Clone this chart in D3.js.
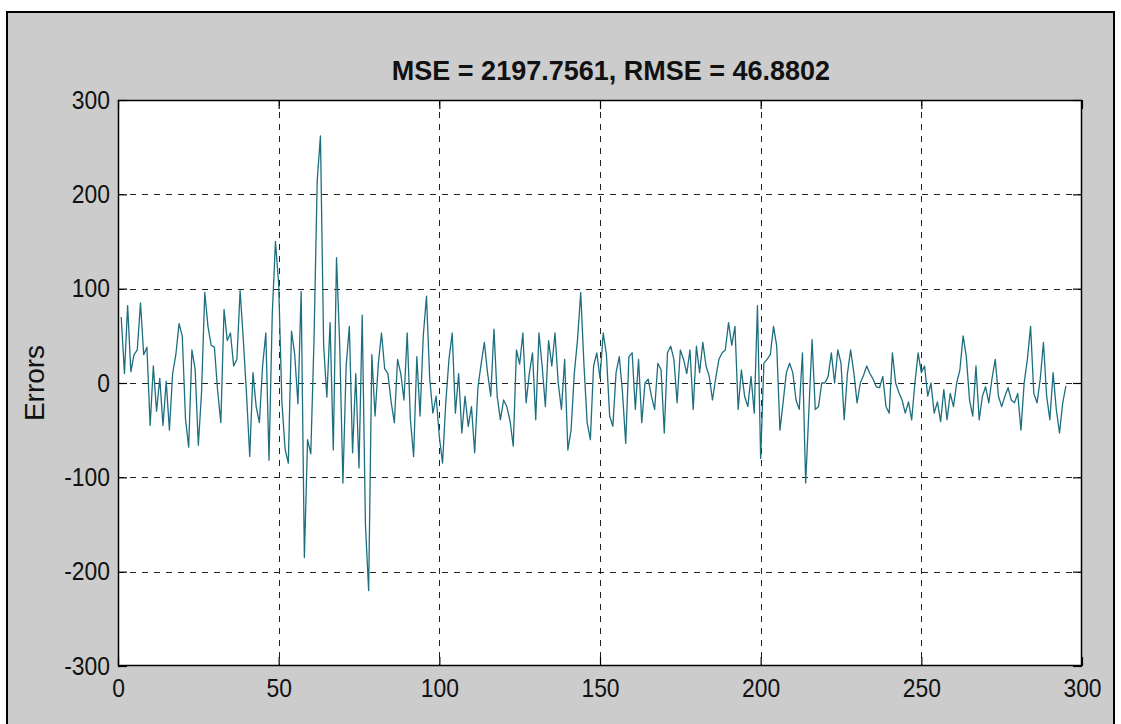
<!DOCTYPE html>
<html>
<head>
<meta charset="utf-8">
<script src="https://cdn.jsdelivr.net/npm/d3@7"></script>
<style>
  html, body { margin: 0; padding: 0; background: #ffffff; }
  svg { display: block; }
  text { font-family: "Liberation Sans", Arial, sans-serif; fill: #111; }
</style>
</head>
<body>
<svg id="chart" width="1121" height="724"></svg>
<script>
// ---- data ----
const titleText = "MSE = 2197.7561, RMSE = 46.8802";
const yLabel = "Errors";
const xTicks = [0, 50, 100, 150, 200, 250, 300];
const yTicks = [-300, -200, -100, 0, 100, 200, 300];
const errors = [
  70, 10, 82, 12, 30, 35, 85, 30, 38, -45,
  18, -30, 5, -45, 2, -50, 10, 30, 63, 50,
  -38, -68, 35, 15, -66, -10, 96, 60, 40, 38,
  -8, -42, 78, 45, 53, 18, 25, 98, 46, -12,
  -78, 11, -25, -42, 18, 53, -82, 72, 150, 105,
  -20, -70, -85, 55, 30, -22, 97, -185, -60, -75,
  46, 215, 262, 40, -15, 64, -71, 133, 40, -106,
  18, 60, -74, 10, -90, 72, -150, -220, 30, -35,
  20, 53, 15, 10, -20, -42, 25, 10, -18, 53,
  -39, -78, 28, -35, 50, 92, 5, -32, -14, -57,
  -85, -21, 25, 53, -32, 10, -53, -14, -46, -25,
  -74, -5, 20, 43, 11, -14, 57, -14, -39, -18,
  -25, -40, -67, 35, 20, 53, -21, 10, 32, -39,
  53, 18, -25, 45, 18, 53, 0, -28, 25, -71,
  -50, 10, 46, 96, 20, -42, -60, 18, 32, 5,
  53, 30, -35, -46, 11, 28, -10, -64, 28, 32,
  -28, 25, -42, 0, 4, -14, -28, 21, 14, -53,
  32, 39, 25, -21, 35, 25, 10, 35, -28, 39,
  11, 43, 18, 7, -18, 5, 25, 32, 35, 64,
  40, 60, -28, 14, -14, -25, 7, -32, 82, -80,
  21, 25, 30, 60, 39, -50, -20, 11, 21, 11,
  -18, -28, 32, -106, -30, 46, -28, -25, 0, 0,
  7, 32, 0, 35, 21, -39, 10, 35, 11, -21,
  0, 8, 18, 10, 4, -4, -5, 7, -25, -32,
  32, 0, -10, -18, -32, -20, -39, 0, 32, 11,
  18, -14, 0, -32, -20, -41, -7, -39, -11, -25,
  0, 14, 50, 28, -18, -35, 18, -39, -14, -4,
  -21, 5, 25, -14, -25, -14, -5, -18, -21, -11,
  -50, 0, 25, 60, -11, -21, 4, 43, -14, -39,
  11, -28, -53, -21, -3
];

// ---- layout ----
const W = 1121, H = 724;
const plot = { left: 118, right: 1082, top: 100, bottom: 666 };
const svg = d3.select("#chart");

// figure background with window border
svg.append("rect").attr("x", 0).attr("y", 0).attr("width", W).attr("height", H).attr("fill", "#ffffff");
svg.append("rect").attr("x", 7).attr("y", 12).attr("width", 1107).attr("height", 730)
  .attr("fill", "#cccccc").attr("stroke", "#000").attr("stroke-width", 2);

const x = d3.scaleLinear().domain([0, 300]).range([plot.left, plot.right]);
const y = d3.scaleLinear().domain([-300, 300]).range([plot.bottom, plot.top]);

// plot area
svg.append("rect").attr("x", plot.left).attr("y", plot.top)
  .attr("width", plot.right - plot.left).attr("height", plot.bottom - plot.top)
  .attr("fill", "#ffffff");

// grid
const grid = svg.append("g").attr("stroke", "#222").attr("stroke-width", 1)
  .attr("stroke-dasharray", "6,6").attr("fill", "none");
grid.selectAll("line.v").data(xTicks.slice(1, -1)).join("line").attr("class", "v")
  .attr("x1", d => Math.round(x(d)) + 0.5).attr("x2", d => Math.round(x(d)) + 0.5)
  .attr("y1", plot.top).attr("y2", plot.bottom);
grid.selectAll("line.h").data(yTicks.slice(1, -1)).join("line").attr("class", "h")
  .attr("y1", d => Math.round(y(d)) + 0.5).attr("y2", d => Math.round(y(d)) + 0.5)
  .attr("x1", plot.left).attr("x2", plot.right);

// data line
const line = d3.line().x((d, i) => x(i + 1)).y(d => y(d));
svg.append("path").datum(errors).attr("d", line)
  .attr("fill", "none").attr("stroke", "#1d6f80").attr("stroke-width", 1.3)
  .attr("stroke-linejoin", "round");

// axes (ticks inward)
const tickLen = 9;
const fontSize = 26;
const fmt = d => String(d);
const axB = svg.append("g").attr("transform", `translate(0,${plot.bottom})`)
  .call(d3.axisBottom(x).tickValues(xTicks).tickFormat(fmt).tickSize(-tickLen).tickSizeOuter(0).tickPadding(13));
const axL = svg.append("g").attr("transform", `translate(${plot.left},0)`)
  .call(d3.axisLeft(y).tickValues(yTicks).tickFormat(fmt).tickSize(-tickLen).tickSizeOuter(0).tickPadding(8));
const axT = svg.append("g").attr("transform", `translate(0,${plot.top})`)
  .call(d3.axisTop(x).tickValues(xTicks).tickSize(-tickLen).tickSizeOuter(0).tickFormat(""));
const axR = svg.append("g").attr("transform", `translate(${plot.right},0)`)
  .call(d3.axisRight(y).tickValues(yTicks).tickSize(-tickLen).tickSizeOuter(0).tickFormat(""));
[axB, axL, axT, axR].forEach(a => {
  a.select(".domain").remove();
  a.selectAll(".tick line").attr("stroke", "#000").attr("stroke-width", 1.2);
  a.selectAll("text").attr("font-size", fontSize).attr("fill", "#111")
    .attr("font-family", "'Liberation Sans', Arial, sans-serif");
});
// narrow the tick labels a little (MATLAB-like condensed look)
axB.selectAll(".tick text").attr("transform", "scale(0.88,1)").attr("x", 0);
axL.selectAll(".tick text").attr("transform", "scale(0.88,1)").attr("x", -8 / 0.88);

// box
svg.append("rect").attr("x", plot.left + 0.5).attr("y", plot.top + 0.5)
  .attr("width", plot.right - plot.left - 1).attr("height", plot.bottom - plot.top - 1)
  .attr("fill", "none").attr("stroke", "#000").attr("stroke-width", 1.5);

// title
svg.append("text").attr("x", (plot.left + plot.right) / 2 + 11).attr("y", 80)
  .attr("text-anchor", "middle").attr("font-size", 27).attr("font-weight", "bold")
  .attr("fill", "#111").text(titleText);

// y label
svg.append("text").attr("transform", `translate(44,${(plot.top + plot.bottom) / 2}) rotate(-90)`)
  .attr("text-anchor", "middle").attr("font-size", 28).attr("fill", "#333").text(yLabel);
</script>
</body>
</html>
